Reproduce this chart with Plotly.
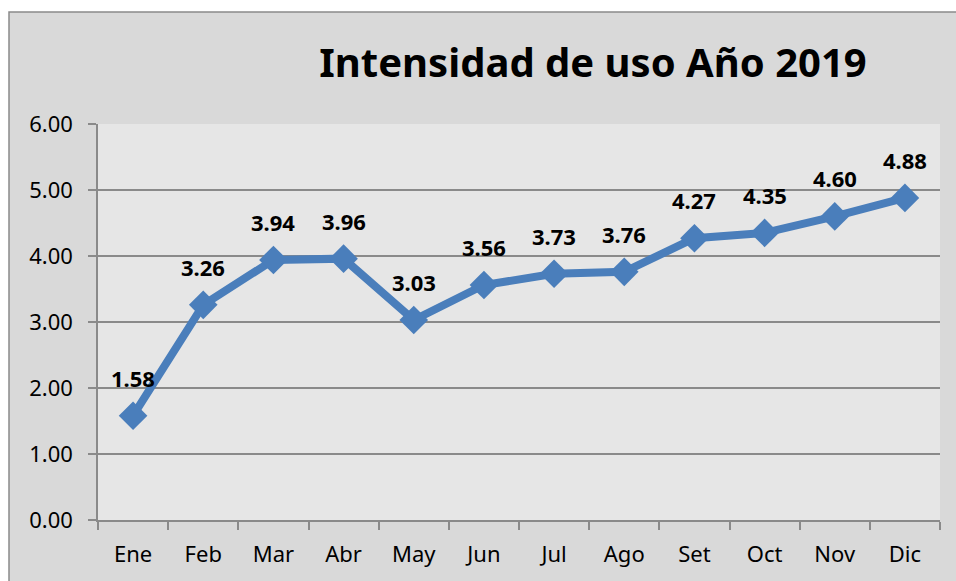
import plotly.graph_objects as go

months = ["Ene", "Feb", "Mar", "Abr", "May", "Jun", "Jul", "Ago", "Set", "Oct", "Nov", "Dic"]
values = [1.58, 3.26, 3.94, 3.96, 3.03, 3.56, 3.73, 3.76, 4.27, 4.35, 4.60, 4.88]
y_ticks = [0, 1, 2, 3, 4, 5, 6]
title_text = "Intensidad de uso Año 2019"

W, H = 956, 581
L, R, T, B = 98, 16, 124, 61
pw, ph = W - L - R, H - T - B

FONT = "Noto Sans"
fig = go.Figure()
fig.add_trace(go.Scatter(
    x=months, y=values, mode="lines+markers",
    line=dict(color="#4a7ebb", width=8),
    marker=dict(symbol="diamond", size=22, color="#4a7ebb"),
    hoverinfo="skip", showlegend=False,
))
for m, v in zip(months, values):
    fig.add_annotation(x=m, y=v, text=f"{v:.2f}", showarrow=False, yshift=38,
                       font=dict(family=FONT, size=22, color="#000000", weight="bold"))

# outer chart frame
fig.add_shape(type="rect", xref="paper", yref="paper", layer="below",
              x0=(9 - L) / pw, x1=(W + 5 - L) / pw,
              y0=(H - B - (H + 5)) / ph, y1=(H - B - 12) / ph,
              fillcolor="#d9d9d9", line=dict(color="#8a8a8a", width=1.5))
# plot area background
fig.add_shape(type="rect", xref="paper", yref="paper", layer="below",
              x0=0, x1=1, y0=0, y1=1, fillcolor="#e6e6e6", line=dict(width=0))

fig.update_layout(
    width=W, height=H,
    margin=dict(l=L, r=R, t=T, b=B),
    paper_bgcolor="#ffffff", plot_bgcolor="#e6e6e6",
    title=dict(text=f"<b>{title_text}</b>", x=593 / W, xanchor="center",
               y=1 - 63 / H, yanchor="middle",
               font=dict(family=FONT, size=40, color="#000000")),
    font=dict(family=FONT, size=22, color="#000000"),
    xaxis=dict(type="category", showgrid=False, showline=True, linecolor="#8a8a8a", linewidth=1.5,
               ticks="outside", ticklen=8, tickcolor="#8a8a8a", tickwidth=1.5, tickson="boundaries",
               ticklabelstandoff=14, range=[-0.5, 11.5], fixedrange=True),
    yaxis=dict(range=[0, 6], tickvals=y_ticks, ticktext=[f"{t:.2f}" for t in y_ticks],
               showgrid=True, gridcolor="#8a8a8a", gridwidth=1.5, showline=True,
               linecolor="#8a8a8a", linewidth=1.5, ticks="outside", ticklen=8,
               tickcolor="#8a8a8a", tickwidth=1.5, ticklabelstandoff=11, zeroline=False,
               fixedrange=True),
)
fig.write_html("out.html", config={"displayModeBar": False},
               post_script="document.body.style.margin='0';document.body.style.overflow='hidden';")
